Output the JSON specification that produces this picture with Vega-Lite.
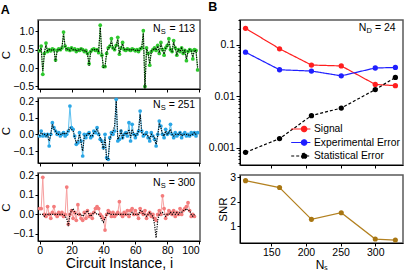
{
"$schema":"https://vega.github.io/schema/vega-lite/v6.json",
"padding":{"left":0,"top":0,"right":0,"bottom":0},
"config":{
 "font":"Liberation Sans",
 "view":{"stroke":"#5a5a5a","strokeWidth":1.5},
 "axis":{"grid":false,"labelFontSize":10.5,"labelColor":"#000","titleColor":"#000","titleFontWeight":"normal","titleFontSize":11.5,"tickSize":3,"tickColor":"#000","domainColor":"#000","domainWidth":1,"labelPadding":1.5,"titlePadding":1},
 "title":{"fontSize":12.5,"fontWeight":"bold","anchor":"start","frame":"bounds","offset":0,"color":"#000"}
},
"datasets":{
"a":[
{"p":1,"i":0,"c":0.47,"t":0.46},{"p":1,"i":1,"c":0.6,"t":0.55},{"p":1,"i":2,"c":-0.17,"t":-0.08},{"p":1,"i":3,"c":0.4,"t":0.42},{"p":1,"i":4,"c":0.68,"t":0.62},{"p":1,"i":5,"c":0.45,"t":0.47},{"p":1,"i":6,"c":0.5,"t":0.5},{"p":1,"i":7,"c":0.47,"t":0.48},{"p":1,"i":8,"c":0.52,"t":0.51},{"p":1,"i":9,"c":0.5,"t":0.49},
{"p":1,"i":10,"c":0.22,"t":0.18},{"p":1,"i":11,"c":0.48,"t":0.47},{"p":1,"i":12,"c":0.52,"t":0.52},{"p":1,"i":13,"c":0.5,"t":0.5},{"p":1,"i":14,"c":0.55,"t":0.56},{"p":1,"i":15,"c":0.98,"t":0.92},{"p":1,"i":16,"c":0.6,"t":0.58},{"p":1,"i":17,"c":0.5,"t":0.5},{"p":1,"i":18,"c":0.53,"t":0.52},{"p":1,"i":19,"c":0.48,"t":0.49},
{"p":1,"i":20,"c":0.55,"t":0.54},{"p":1,"i":21,"c":0.5,"t":0.5},{"p":1,"i":22,"c":0.52,"t":0.51},{"p":1,"i":23,"c":0.45,"t":0.46},{"p":1,"i":24,"c":0.5,"t":0.5},{"p":1,"i":25,"c":0.48,"t":0.49},{"p":1,"i":26,"c":0.52,"t":0.52},{"p":1,"i":27,"c":0.5,"t":0.49},{"p":1,"i":28,"c":0.45,"t":0.46},{"p":1,"i":29,"c":0.48,"t":0.48},
{"p":1,"i":30,"c":0.4,"t":0.38},{"p":1,"i":31,"c":0.12,"t":0.06},{"p":1,"i":32,"c":0.45,"t":0.44},{"p":1,"i":33,"c":0.5,"t":0.5},{"p":1,"i":34,"c":0.52,"t":0.51},{"p":1,"i":35,"c":0.48,"t":0.49},{"p":1,"i":36,"c":0.5,"t":0.5},{"p":1,"i":37,"c":0.42,"t":0.44},{"p":1,"i":38,"c":1.17,"t":1.1},{"p":1,"i":39,"c":0.35,"t":0.38},
{"p":1,"i":40,"c":0.04,"t":0.02},{"p":1,"i":41,"c":0.04,"t":0.03},{"p":1,"i":42,"c":0.4,"t":0.42},{"p":1,"i":43,"c":0.55,"t":0.54},{"p":1,"i":44,"c":0.6,"t":0.58},{"p":1,"i":45,"c":0.8,"t":0.74},{"p":1,"i":46,"c":0.55,"t":0.54},{"p":1,"i":47,"c":0.5,"t":0.51},{"p":1,"i":48,"c":0.62,"t":0.6},{"p":1,"i":49,"c":0.84,"t":0.78},
{"p":1,"i":50,"c":0.38,"t":0.4},{"p":1,"i":51,"c":0.55,"t":0.54},{"p":1,"i":52,"c":0.7,"t":0.66},{"p":1,"i":53,"c":0.5,"t":0.51},{"p":1,"i":54,"c":0.48,"t":0.49},{"p":1,"i":55,"c":0.52,"t":0.51},{"p":1,"i":56,"c":0.5,"t":0.5},{"p":1,"i":57,"c":0.48,"t":0.48},{"p":1,"i":58,"c":0.52,"t":0.52},{"p":1,"i":59,"c":0.5,"t":0.5},
{"p":1,"i":60,"c":0.47,"t":0.48},{"p":1,"i":61,"c":0.5,"t":0.5},{"p":1,"i":62,"c":0.45,"t":0.46},{"p":1,"i":63,"c":0.52,"t":0.52},{"p":1,"i":64,"c":0.55,"t":0.56},{"p":1,"i":65,"c":1.02,"t":0.95},{"p":1,"i":66,"c":-0.5,"t":-0.56},{"p":1,"i":67,"c":0.55,"t":0.52},{"p":1,"i":68,"c":0.4,"t":0.42},{"p":1,"i":69,"c":0.08,"t":0.12},
{"p":1,"i":70,"c":0.45,"t":0.46},{"p":1,"i":71,"c":0.5,"t":0.5},{"p":1,"i":72,"c":0.55,"t":0.54},{"p":1,"i":73,"c":0.48,"t":0.49},{"p":1,"i":74,"c":0.62,"t":0.6},{"p":1,"i":75,"c":0.4,"t":0.42},{"p":1,"i":76,"c":0.7,"t":0.66},{"p":1,"i":77,"c":0.5,"t":0.51},{"p":1,"i":78,"c":0.35,"t":0.38},{"p":1,"i":79,"c":0.55,"t":0.54},
{"p":1,"i":80,"c":0.62,"t":0.6},{"p":1,"i":81,"c":0.8,"t":0.74},{"p":1,"i":82,"c":0.5,"t":0.5},{"p":1,"i":83,"c":0.45,"t":0.46},{"p":1,"i":84,"c":0.75,"t":0.7},{"p":1,"i":85,"c":0.55,"t":0.54},{"p":1,"i":86,"c":0.35,"t":0.38},{"p":1,"i":87,"c":0.5,"t":0.5},{"p":1,"i":88,"c":0.45,"t":0.46},{"p":1,"i":89,"c":0.55,"t":0.54},
{"p":1,"i":90,"c":0.4,"t":0.42},{"p":1,"i":91,"c":0.48,"t":0.48},{"p":1,"i":92,"c":0.2,"t":0.25},{"p":1,"i":93,"c":0.45,"t":0.46},{"p":1,"i":94,"c":0.5,"t":0.5},{"p":1,"i":95,"c":0.48,"t":0.48},{"p":1,"i":96,"c":0.25,"t":0.3},{"p":1,"i":97,"c":0.5,"t":0.49},{"p":1,"i":98,"c":0.48,"t":0.47},{"p":1,"i":99,"c":-0.05,"t":0.02},
{"p":2,"i":0,"c":-0.01,"t":-0.01},{"p":2,"i":1,"c":0.02,"t":0.01},{"p":2,"i":2,"c":-0.01,"t":0},{"p":2,"i":3,"c":0,"t":0},{"p":2,"i":4,"c":-0.01,"t":-0.01},{"p":2,"i":5,"c":0,"t":0},{"p":2,"i":6,"c":-0.07,"t":-0.04},{"p":2,"i":7,"c":0,"t":0},{"p":2,"i":8,"c":0.07,"t":0.06},{"p":2,"i":9,"c":0.04,"t":0.03},
{"p":2,"i":10,"c":0.02,"t":0.02},{"p":2,"i":11,"c":0,"t":0},{"p":2,"i":12,"c":0.01,"t":0},{"p":2,"i":13,"c":-0.01,"t":0},{"p":2,"i":14,"c":0,"t":0},{"p":2,"i":15,"c":0.01,"t":0.01},{"p":2,"i":16,"c":-0.01,"t":0},{"p":2,"i":17,"c":0,"t":0.01},{"p":2,"i":18,"c":0.02,"t":0.02},{"p":2,"i":19,"c":0.17,"t":0.04},
{"p":2,"i":20,"c":0.04,"t":0.03},{"p":2,"i":21,"c":0.03,"t":0.02},{"p":2,"i":22,"c":-0.01,"t":-0.02},{"p":2,"i":23,"c":-0.06,"t":-0.05},{"p":2,"i":24,"c":-0.05,"t":-0.04},{"p":2,"i":25,"c":0.01,"t":0},{"p":2,"i":26,"c":-0.04,"t":-0.05},{"p":2,"i":27,"c":-0.13,"t":-0.1},{"p":2,"i":28,"c":0,"t":-0.01},{"p":2,"i":29,"c":-0.02,"t":-0.01},
{"p":2,"i":30,"c":0,"t":0},{"p":2,"i":31,"c":0.01,"t":0.01},{"p":2,"i":32,"c":-0.02,"t":-0.01},{"p":2,"i":33,"c":-0.01,"t":-0.01},{"p":2,"i":34,"c":0.02,"t":0.01},{"p":2,"i":35,"c":0.01,"t":0.02},{"p":2,"i":36,"c":0.04,"t":0.03},{"p":2,"i":37,"c":0,"t":0.01},{"p":2,"i":38,"c":-0.03,"t":-0.02},{"p":2,"i":39,"c":-0.04,"t":-0.05},
{"p":2,"i":40,"c":-0.08,"t":-0.09},{"p":2,"i":41,"c":0,"t":-0.02},{"p":2,"i":42,"c":-0.14,"t":-0.15},{"p":2,"i":43,"c":-0.15,"t":-0.15},{"p":2,"i":44,"c":-0.02,"t":-0.03},{"p":2,"i":45,"c":0.01,"t":0},{"p":2,"i":46,"c":0,"t":0.02},{"p":2,"i":47,"c":0.02,"t":0.05},{"p":2,"i":48,"c":0.21,"t":0.2},{"p":2,"i":49,"c":-0.04,"t":-0.03},
{"p":2,"i":50,"c":-0.03,"t":-0.01},{"p":2,"i":51,"c":0.02,"t":0.02},{"p":2,"i":52,"c":-0.02,"t":-0.02},{"p":2,"i":53,"c":0,"t":0},{"p":2,"i":54,"c":0.01,"t":0.01},{"p":2,"i":55,"c":-0.01,"t":0},{"p":2,"i":56,"c":0.07,"t":0.03},{"p":2,"i":57,"c":-0.04,"t":-0.02},{"p":2,"i":58,"c":0.06,"t":0.03},{"p":2,"i":59,"c":0,"t":0},
{"p":2,"i":60,"c":-0.02,"t":-0.01},{"p":2,"i":61,"c":0,"t":0},{"p":2,"i":62,"c":0.02,"t":0.02},{"p":2,"i":63,"c":0.14,"t":0.12},{"p":2,"i":64,"c":0.02,"t":0.01},{"p":2,"i":65,"c":-0.01,"t":0},{"p":2,"i":66,"c":0,"t":0},{"p":2,"i":67,"c":0.01,"t":0},{"p":2,"i":68,"c":-0.02,"t":-0.01},{"p":2,"i":69,"c":-0.04,"t":-0.03},
{"p":2,"i":70,"c":0.01,"t":0},{"p":2,"i":71,"c":-0.01,"t":-0.01},{"p":2,"i":72,"c":-0.03,"t":-0.02},{"p":2,"i":73,"c":-0.07,"t":-0.06},{"p":2,"i":74,"c":0,"t":-0.01},{"p":2,"i":75,"c":0.08,"t":0.06},{"p":2,"i":76,"c":0.05,"t":0.04},{"p":2,"i":77,"c":0,"t":0},{"p":2,"i":78,"c":-0.02,"t":-0.01},{"p":2,"i":79,"c":0.03,"t":0.02},
{"p":2,"i":80,"c":0,"t":0},{"p":2,"i":81,"c":0.01,"t":0.01},{"p":2,"i":82,"c":0.06,"t":0.03},{"p":2,"i":83,"c":0,"t":0},{"p":2,"i":84,"c":-0.02,"t":-0.01},{"p":2,"i":85,"c":0.01,"t":0},{"p":2,"i":86,"c":-0.01,"t":0},{"p":2,"i":87,"c":0,"t":0},{"p":2,"i":88,"c":0.01,"t":0.01},{"p":2,"i":89,"c":-0.02,"t":-0.01},
{"p":2,"i":90,"c":0,"t":0},{"p":2,"i":91,"c":0.01,"t":0},{"p":2,"i":92,"c":-0.01,"t":0},{"p":2,"i":93,"c":0,"t":0},{"p":2,"i":94,"c":-0.01,"t":-0.01},{"p":2,"i":95,"c":0.01,"t":0},{"p":2,"i":96,"c":0,"t":0},{"p":2,"i":97,"c":0.01,"t":0.01},{"p":2,"i":98,"c":-0.01,"t":0},{"p":2,"i":99,"c":0.01,"t":0},
{"p":3,"i":0,"c":0.03,"t":0},{"p":3,"i":1,"c":0.03,"t":0},{"p":3,"i":2,"c":0.19,"t":0},{"p":3,"i":3,"c":0,"t":-0.01},{"p":3,"i":4,"c":-0.01,"t":0},{"p":3,"i":5,"c":0.04,"t":0},{"p":3,"i":6,"c":0,"t":0},{"p":3,"i":7,"c":-0.02,"t":0},{"p":3,"i":8,"c":0.01,"t":0},{"p":3,"i":9,"c":0.04,"t":0},
{"p":3,"i":10,"c":0,"t":0},{"p":3,"i":11,"c":-0.01,"t":0},{"p":3,"i":12,"c":0.01,"t":0},{"p":3,"i":13,"c":0,"t":0},{"p":3,"i":14,"c":0.01,"t":0},{"p":3,"i":15,"c":-0.01,"t":0},{"p":3,"i":16,"c":0,"t":-0.01},{"p":3,"i":17,"c":0.14,"t":-0.02},{"p":3,"i":18,"c":-0.05,"t":-0.06},{"p":3,"i":19,"c":0,"t":0},
{"p":3,"i":20,"c":0.02,"t":0.02},{"p":3,"i":21,"c":-0.02,"t":0.03},{"p":3,"i":22,"c":0.01,"t":0.01},{"p":3,"i":23,"c":-0.03,"t":0},{"p":3,"i":24,"c":0.05,"t":0},{"p":3,"i":25,"c":0,"t":0},{"p":3,"i":26,"c":-0.02,"t":0},{"p":3,"i":27,"c":-0.03,"t":-0.01},{"p":3,"i":28,"c":0.01,"t":0},{"p":3,"i":29,"c":-0.02,"t":0.01},
{"p":3,"i":30,"c":0.02,"t":0.02},{"p":3,"i":31,"c":-0.01,"t":0},{"p":3,"i":32,"c":0,"t":-0.01},{"p":3,"i":33,"c":-0.02,"t":0},{"p":3,"i":34,"c":0.01,"t":0.01},{"p":3,"i":35,"c":0.03,"t":0.01},{"p":3,"i":36,"c":0.04,"t":0},{"p":3,"i":37,"c":0.03,"t":0},{"p":3,"i":38,"c":0,"t":-0.01},{"p":3,"i":39,"c":-0.01,"t":-0.03},
{"p":3,"i":40,"c":-0.02,"t":-0.04},{"p":3,"i":41,"c":-0.08,"t":-0.02},{"p":3,"i":42,"c":0,"t":0},{"p":3,"i":43,"c":0.02,"t":0.01},{"p":3,"i":44,"c":0.01,"t":0},{"p":3,"i":45,"c":-0.01,"t":0},{"p":3,"i":46,"c":0.01,"t":0},{"p":3,"i":47,"c":-0.01,"t":0},{"p":3,"i":48,"c":0,"t":0},{"p":3,"i":49,"c":0.01,"t":0},
{"p":3,"i":50,"c":0.065,"t":0},{"p":3,"i":51,"c":0,"t":0},{"p":3,"i":52,"c":-0.01,"t":0},{"p":3,"i":53,"c":0.01,"t":0},{"p":3,"i":54,"c":0,"t":0},{"p":3,"i":55,"c":0.02,"t":0},{"p":3,"i":56,"c":-0.01,"t":0},{"p":3,"i":57,"c":0.02,"t":0},{"p":3,"i":58,"c":0.03,"t":0.01},{"p":3,"i":59,"c":0,"t":0},
{"p":3,"i":60,"c":0.02,"t":0},{"p":3,"i":61,"c":0,"t":0},{"p":3,"i":62,"c":-0.02,"t":0},{"p":3,"i":63,"c":0.03,"t":0.02},{"p":3,"i":64,"c":0.01,"t":0.02},{"p":3,"i":65,"c":0,"t":0},{"p":3,"i":66,"c":0.02,"t":0},{"p":3,"i":67,"c":-0.02,"t":-0.01},{"p":3,"i":68,"c":0,"t":0},{"p":3,"i":69,"c":0.01,"t":0.01},
{"p":3,"i":70,"c":-0.01,"t":0},{"p":3,"i":71,"c":0,"t":-0.01},{"p":3,"i":72,"c":-0.02,"t":-0.05},{"p":3,"i":73,"c":-0.03,"t":-0.12},{"p":3,"i":74,"c":0,"t":-0.03},{"p":3,"i":75,"c":0.02,"t":0},{"p":3,"i":76,"c":0,"t":0.01},{"p":3,"i":77,"c":0.095,"t":0.01},{"p":3,"i":78,"c":0.03,"t":0},{"p":3,"i":79,"c":-0.02,"t":-0.01},
{"p":3,"i":80,"c":0,"t":0},{"p":3,"i":81,"c":0.02,"t":0},{"p":3,"i":82,"c":0.01,"t":0.01},{"p":3,"i":83,"c":0,"t":0},{"p":3,"i":84,"c":0.02,"t":0.01},{"p":3,"i":85,"c":-0.01,"t":0},{"p":3,"i":86,"c":0.01,"t":0.01},{"p":3,"i":87,"c":0,"t":0},{"p":3,"i":88,"c":0.03,"t":0.01},{"p":3,"i":89,"c":0,"t":0.01},
{"p":3,"i":90,"c":0.02,"t":0.02},{"p":3,"i":91,"c":0.03,"t":0.02},{"p":3,"i":92,"c":0.04,"t":0.03},{"p":3,"i":93,"c":0.06,"t":0.02},{"p":3,"i":94,"c":0.02,"t":0.02},{"p":3,"i":95,"c":-0.01,"t":0},{"p":3,"i":96,"c":0,"t":-0.01},{"p":3,"i":97,"c":-0.01,"t":0}
],
"b":[
{"ns":113,"series":"Signal","v":0.21},{"ns":162,"series":"Signal","v":0.084},{"ns":208,"series":"Signal","v":0.0405},{"ns":251,"series":"Signal","v":0.039},{"ns":300,"series":"Signal","v":0.017},{"ns":329,"series":"Signal","v":0.0161},
{"ns":113,"series":"Experimental Error","v":0.072},{"ns":162,"series":"Experimental Error","v":0.0328},{"ns":208,"series":"Experimental Error","v":0.031},{"ns":251,"series":"Experimental Error","v":0.025},{"ns":300,"series":"Experimental Error","v":0.0355},{"ns":329,"series":"Experimental Error","v":0.0364},
{"ns":113,"series":"Statistical Error","v":0.00081},{"ns":162,"series":"Statistical Error","v":0.0015},{"ns":208,"series":"Statistical Error","v":0.0042},{"ns":251,"series":"Statistical Error","v":0.0059},{"ns":300,"series":"Statistical Error","v":0.0135},{"ns":329,"series":"Statistical Error","v":0.0233}
],
"snr":[
{"ns":113,"snr":2.86},{"ns":162,"snr":2.58},{"ns":208,"snr":1.29},{"ns":251,"snr":1.56},{"ns":300,"snr":0.49},{"ns":329,"snr":0.45}
]
},
"spacing":6,
"resolve":{"scale":{"color":"independent","strokeDash":"independent"},"legend":{"color":"independent","strokeDash":"independent"}},
"hconcat":[
{"spacing":1,"vconcat":[
 {"width":162,"height":69,"title":{"text":"A"},
  "data":{"name":"a"},"transform":[{"filter":"datum.p == 1"}],
  "encoding":{
   "x":{"field":"i","type":"quantitative","scale":{"domain":[-1,100.5],"nice":false,"zero":false},"axis":{"values":[0,20,40,60,80,100],"labels":false,"title":null}},
   "y":{"field":"c","type":"quantitative","scale":{"domain":[-0.57,1.31],"nice":false,"zero":false},"axis":{"values":[-0.5,0,0.5,1],"format":".1f","title":"C"}}},
  "layer":[
   {"mark":{"type":"line","color":"#66d466","strokeWidth":1},"encoding":{}},
   {"mark":{"type":"point","filled":true,"color":"#2ec82e","size":14,"opacity":1},"encoding":{}},
   {"mark":{"type":"line","color":"#000","strokeWidth":1.2,"strokeDash":[1.2,1.2]},"encoding":{"y":{"field":"t","type":"quantitative","axis":{"values":[-0.5,0,0.5,1],"format":".1f","title":"C"}}}},
   {"data":{"values":[{"p":1,"i":97.5,"c":1.06}]},"mark":{"type":"text","text":"= 113","align":"right","baseline":"middle","fontSize":10.5,"color":"#000"},"encoding":{}},
   {"data":{"values":[{"p":1,"i":97.5,"c":1.06}]},"mark":{"type":"text","text":"S","align":"right","baseline":"middle","fontSize":7.5,"dx":-29.5,"dy":3,"color":"#000"},"encoding":{}},
   {"data":{"values":[{"p":1,"i":97.5,"c":1.06}]},"mark":{"type":"text","text":"N","align":"right","baseline":"middle","fontSize":10.5,"dx":-34.6,"color":"#000"},"encoding":{}}
  ]},
 {"width":162,"height":65,
  "data":{"name":"a"},"transform":[{"filter":"datum.p == 2"}],
  "encoding":{
   "x":{"field":"i","type":"quantitative","scale":{"domain":[-1,100.5],"nice":false,"zero":false},"axis":{"values":[0,20,40,60,80,100],"labels":false,"title":null}},
   "y":{"field":"c","type":"quantitative","scale":{"domain":[-0.172,0.218],"nice":false,"zero":false},"axis":{"values":[-0.1,0,0.1,0.2],"format":".1f","title":"C"}}},
  "layer":[
   {"mark":{"type":"line","color":"#5cc0f0","strokeWidth":1},"encoding":{}},
   {"mark":{"type":"point","filled":true,"color":"#2aa6e6","size":14,"opacity":1},"encoding":{}},
   {"mark":{"type":"line","color":"#000","strokeWidth":1.2,"strokeDash":[1.2,1.2]},"encoding":{"y":{"field":"t","type":"quantitative","axis":{"values":[-0.1,0,0.1,0.2],"format":".1f","title":"C"}}}},
   {"data":{"values":[{"p":2,"i":97.5,"c":0.178}]},"mark":{"type":"text","text":"= 251","align":"right","baseline":"middle","fontSize":10.5,"color":"#000"},"encoding":{}},
   {"data":{"values":[{"p":2,"i":97.5,"c":0.178}]},"mark":{"type":"text","text":"S","align":"right","baseline":"middle","fontSize":7.5,"dx":-29.5,"dy":3,"color":"#000"},"encoding":{}},
   {"data":{"values":[{"p":2,"i":97.5,"c":0.178}]},"mark":{"type":"text","text":"N","align":"right","baseline":"middle","fontSize":10.5,"dx":-34.6,"color":"#000"},"encoding":{}}
  ]},
 {"width":162,"height":68,
  "data":{"name":"a"},"transform":[{"filter":"datum.p == 3"}],
  "encoding":{
   "x":{"field":"i","type":"quantitative","scale":{"domain":[-1,100.5],"nice":false,"zero":false},"axis":{"values":[0,20,40,60,80,100],"title":"Circuit Instance, i","titleFontSize":14,"titlePadding":0}},
   "y":{"field":"c","type":"quantitative","scale":{"domain":[-0.136,0.212],"nice":false,"zero":false},"axis":{"values":[-0.1,0,0.1,0.2],"format":".1f","title":"C"}}},
  "layer":[
   {"mark":{"type":"line","color":"#f7a0a0","strokeWidth":1},"encoding":{}},
   {"mark":{"type":"point","filled":true,"color":"#f47c7c","size":14,"opacity":1},"encoding":{}},
   {"mark":{"type":"line","color":"#000","strokeWidth":1.2,"strokeDash":[1.2,1.2]},"encoding":{"y":{"field":"t","type":"quantitative","axis":{"values":[-0.1,0,0.1,0.2],"format":".1f","title":"C"}}}},
   {"data":{"values":[{"p":3,"i":97.5,"c":0.161}]},"mark":{"type":"text","text":"= 300","align":"right","baseline":"middle","fontSize":10.5,"color":"#000"},"encoding":{}},
   {"data":{"values":[{"p":3,"i":97.5,"c":0.161}]},"mark":{"type":"text","text":"S","align":"right","baseline":"middle","fontSize":7.5,"dx":-29.5,"dy":3,"color":"#000"},"encoding":{}},
   {"data":{"values":[{"p":3,"i":97.5,"c":0.161}]},"mark":{"type":"text","text":"N","align":"right","baseline":"middle","fontSize":10.5,"dx":-34.6,"color":"#000"},"encoding":{}}
  ]}
]},
{"spacing":1,
 "resolve":{"scale":{"color":"independent","strokeDash":"independent"},"legend":{"color":"independent","strokeDash":"independent"}},
 "vconcat":[
 {"width":163,"height":145,"title":{"text":"B","offset":2},
  "data":{"name":"b"},
  "encoding":{
   "x":{"field":"ns","type":"quantitative","scale":{"domain":[105,340],"nice":false,"zero":false},"axis":{"values":[150,200,250,300],"labels":false,"title":null}},
   "y":{"field":"v","type":"quantitative","scale":{"type":"log","domain":[0.00046,0.305],"nice":false},"axis":{"title":null,"labelOverlap":false,"values":[0.0005,0.0006,0.0007,0.0008,0.0009,0.001,0.002,0.003,0.004,0.005,0.006,0.007,0.008,0.009,0.01,0.02,0.03,0.04,0.05,0.06,0.07,0.08,0.09,0.1,0.2,0.3],"labelExpr":"datum.value == 0.001 ? '0.001' : datum.value == 0.01 ? '0.01' : datum.value == 0.1 ? '0.1' : ''","tickSize":{"condition":{"test":"datum.value == 0.001 || datum.value == 0.01 || datum.value == 0.1","value":4},"value":2}}},
   "color":{"field":"series","type":"nominal","scale":{"domain":["Signal","Experimental Error","Statistical Error"],"range":["#ff1f1f","#1f1fff","#000000"]},"legend":{"title":null,"orient":"bottom-right","offset":3,"padding":0,"labelFontSize":10.3,"labelColor":"#000","symbolSize":144,"symbolStrokeWidth":1.2,"labelOffset":8,"rowPadding":0.5,"labelLimit":200,"symbolType":"M-1.3,0H1.9M1.3,0A0.45,0.45 0 1 1 0.4,0A0.45,0.45 0 1 1 1.3,0","encode":{"symbols":{"update":{"fill":{"scale":"color","field":"value"},"stroke":{"scale":"color","field":"value"}}}}}}},
  "layer":[
   {"mark":{"type":"line","strokeWidth":1.2},"encoding":{"strokeDash":{"field":"series","type":"nominal","scale":{"domain":["Signal","Experimental Error","Statistical Error"],"range":[[1,0],[1,0],[3,2]]},"legend":{"title":null,"orient":"bottom-right","offset":3,"padding":0,"labelFontSize":10.3,"labelColor":"#000","symbolSize":144,"symbolStrokeWidth":1.2,"labelOffset":8,"rowPadding":0.5,"labelLimit":200,"symbolType":"M-1.3,0H1.9M1.3,0A0.45,0.45 0 1 1 0.4,0A0.45,0.45 0 1 1 1.3,0"}}}},
   {"mark":{"type":"point","filled":true,"size":28,"opacity":1},"encoding":{}},
   {"data":{"values":[{"ns":329.5,"v":0.216}]},"mark":{"type":"text","text":"= 24","align":"right","baseline":"middle","fontSize":10.5},"encoding":{"color":{"value":"#000"}}},
   {"data":{"values":[{"ns":329.5,"v":0.216}]},"mark":{"type":"text","text":"D","align":"right","baseline":"middle","fontSize":7.5,"dx":-23.7,"dy":3},"encoding":{"color":{"value":"#000"}}},
   {"data":{"values":[{"ns":329.5,"v":0.216}]},"mark":{"type":"text","text":"N","align":"right","baseline":"middle","fontSize":10.5,"dx":-29.4},"encoding":{"color":{"value":"#000"}}}
  ]},
 {"width":163,"height":68,
  "data":{"name":"snr"},
  "encoding":{
   "x":{"field":"ns","type":"quantitative","scale":{"domain":[105,340],"nice":false,"zero":false},"axis":{"values":[150,200,250,300],"title":"Nₛ","titleFontSize":12,"titlePadding":1}},
   "y":{"field":"snr","type":"quantitative","scale":{"domain":[0.33,3.09],"nice":false,"zero":false},"axis":{"values":[1,2,3],"title":"SNR"}}},
  "layer":[
   {"mark":{"type":"line","color":"#b38120","strokeWidth":1.2},"encoding":{}},
   {"mark":{"type":"point","filled":true,"color":"#a87612","size":26,"opacity":1},"encoding":{}}
  ]}
]}
]
}
